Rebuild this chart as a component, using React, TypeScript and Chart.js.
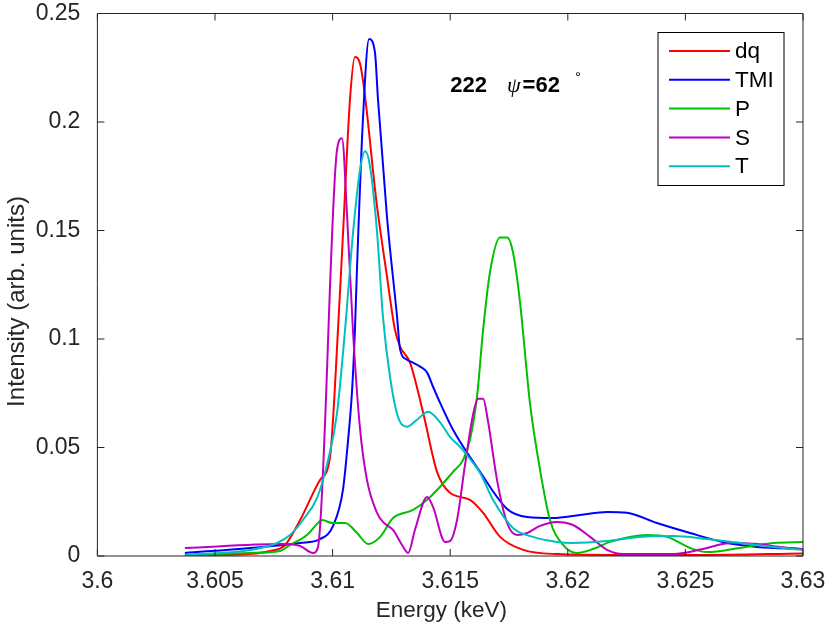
import { useEffect, useRef } from "react";
import { Chart, registerables } from "chart.js";

Chart.register(...registerables);

// tick positions and labels (MATLAB-style)
const xTickValues = [3.6, 3.605, 3.61, 3.615, 3.62, 3.625, 3.63];
const xTickLabels = ["3.6", "3.605", "3.61", "3.615", "3.62", "3.625", "3.63"];
const yTickValues = [0, 0.05, 0.1, 0.15, 0.2, 0.25];
const yTickLabels = ["0", "0.05", "0.1", "0.15", "0.2", "0.25"];

// dq
const dqEnergy = [
  3.60372, 3.60606, 3.60734, 3.60798, 3.60862, 3.60947, 3.60989, 3.61023, 3.61044,
  3.61074, 3.61095, 3.61117, 3.61189, 3.61231, 3.61265, 3.61287, 3.61329, 3.61385,
  3.61444, 3.61499, 3.61584, 3.6164, 3.61712, 3.6181, 3.61954, 3.62222, 3.62562, 3.63,
];
const dqIntensity = [
  0.0005, 0.0007, 0.0023, 0.0051, 0.0166, 0.0351, 0.0457, 0.1043, 0.148,
  0.2105, 0.2299, 0.2267, 0.161, 0.129, 0.1043, 0.0965, 0.0891, 0.066,
  0.0388, 0.0291, 0.0259, 0.0199, 0.0088, 0.0028, 0.0009, 0.0005, 0.0005, 0.0012,
];

// TMI
const tmiEnergy = [
  3.60372, 3.60649, 3.60862, 3.60947, 3.61002, 3.61044, 3.61066, 3.61083, 3.61095,
  3.61104, 3.61129, 3.61155, 3.6118, 3.61193, 3.61231, 3.61274, 3.61287, 3.61316,
  3.61342, 3.61372, 3.61402, 3.61427, 3.61457, 3.61512, 3.61627, 3.61742, 3.61827,
  3.61937, 3.62052, 3.62167, 3.62252, 3.62379, 3.6252, 3.62677, 3.62805, 3.63,
];
const tmiIntensity = [
  0.0014, 0.0037, 0.006, 0.0078, 0.0139, 0.0305, 0.0536, 0.0766, 0.1043,
  0.1334, 0.2013, 0.2382, 0.2322, 0.2105, 0.1565, 0.1103, 0.0951, 0.0905,
  0.0891, 0.0873, 0.0845, 0.078, 0.0706, 0.0582, 0.0388, 0.0217, 0.018,
  0.0175, 0.0189, 0.0203, 0.0199, 0.0152, 0.0106, 0.006, 0.0042, 0.0032,
];

// P
const pEnergy = [
  3.60372, 3.60649, 3.60776, 3.60819, 3.60891, 3.60934, 3.60955, 3.60998, 3.61053,
  3.61104, 3.61151, 3.61202, 3.61257, 3.61342, 3.61402, 3.61457, 3.61512, 3.61555,
  3.61584, 3.61614, 3.6164, 3.61669, 3.61712, 3.61742, 3.61767, 3.61797, 3.61839,
  3.61882, 3.61924, 3.6198, 3.62039, 3.62107, 3.6218, 3.62337, 3.62422, 3.6252,
  3.62592, 3.62732, 3.62873, 3.63,
];
const pIntensity = [
  0.0005, 0.0014, 0.0023, 0.0051, 0.0097, 0.0148, 0.0166, 0.0152, 0.0152,
  0.0106, 0.0055, 0.0088, 0.0175, 0.0212, 0.0259, 0.0319, 0.0388, 0.0443,
  0.0536, 0.0734, 0.1043, 0.1307, 0.1468, 0.1468, 0.1399, 0.1168, 0.0706,
  0.0397, 0.0166, 0.0051, 0.0014, 0.0032, 0.0065, 0.0097, 0.0088, 0.0037,
  0.0018, 0.0037, 0.006, 0.0065,
];

// S
const sEnergy = [
  3.60372, 3.60789, 3.60862, 3.60917, 3.60938, 3.61019, 3.6104, 3.61061, 3.61087,
  3.61117, 3.61146, 3.61189, 3.61214, 3.61257, 3.61295, 3.61321, 3.6135, 3.61402,
  3.61427, 3.61478, 3.61499, 3.61529, 3.61563, 3.61597, 3.61618, 3.6164, 3.61661,
  3.61699, 3.61742, 3.61784, 3.61827, 3.61882, 3.61954, 3.62022, 3.62095, 3.62167,
  3.62235, 3.62448, 3.62592, 3.6269, 3.62805, 3.62902, 3.63,
];
const sIntensity = [
  0.0037, 0.0055, 0.0046, 0.0014, 0.0042, 0.1874, 0.1925, 0.158, 0.103,
  0.0582, 0.0351, 0.0199, 0.0157, 0.012, 0.0051, 0.0014, 0.012, 0.0272,
  0.0226, 0.0065, 0.0069, 0.0166, 0.042, 0.0651, 0.0725, 0.0725, 0.0619,
  0.0351, 0.0152, 0.0097, 0.0106, 0.0139, 0.0157, 0.0143, 0.0088, 0.0028,
  0.0009, 0.0009, 0.0037, 0.006, 0.0055, 0.0042, 0.0032,
];

// T
const tEnergy = [
  3.60372, 3.60649, 3.60764, 3.60819, 3.60874, 3.60934, 3.60976, 3.61019, 3.61053,
  3.61087, 3.61117, 3.61138, 3.61159, 3.61189, 3.61214, 3.61244, 3.61278, 3.61316,
  3.61359, 3.61406, 3.61457, 3.61499, 3.61542, 3.61597, 3.61627, 3.61682, 3.61767,
  3.61852, 3.61954, 3.62022, 3.62167, 3.62307, 3.62448, 3.62592, 3.62732, 3.62873, 3.63,
];
const tIntensity = [
  0.0005, 0.0028, 0.006, 0.0097, 0.0166, 0.0268, 0.042, 0.066, 0.1043,
  0.1491, 0.1782, 0.1865, 0.1796, 0.1491, 0.1103, 0.0827, 0.0642, 0.0596,
  0.0628, 0.0665, 0.0616, 0.0549, 0.0503, 0.0429, 0.0383, 0.0259, 0.0129,
  0.0088, 0.0065, 0.006, 0.0069, 0.0088, 0.0092, 0.0078, 0.006, 0.0042, 0.0028,
];

const seriesLabels = ["dq", "TMI", "P", "S", "T"];
const seriesColors = ["#ff0000", "#0000ff", "#00bf00", "#bf00bf", "#00bfbf"];

const xTitle = "Energy (keV)";
const yTitle = "Intensity (arb. units)";

// annotation anchor (data coords, baseline of text)
const noteEnergy = 3.615;
const noteIntensity = 0.2138;

const FONT = "'Liberation Sans', Arial, Helvetica, sans-serif";
const AXIS = "#262626";
const TICK = 7;

const toPoints = (xs: number[], ys: number[]) => xs.map((x, i) => ({ x, y: ys[i] }));

const framePlugin = {
  id: "frame",
  afterDatasetsDraw(chart: any) {
    const { ctx, chartArea: a, scales } = chart;
    ctx.save();
    ctx.strokeStyle = AXIS;
    ctx.lineWidth = 1;
    ctx.beginPath();
    ctx.rect(a.left, a.top, a.right - a.left, a.bottom - a.top);
    xTickValues.forEach((v) => {
      const x = scales.x.getPixelForValue(v);
      ctx.moveTo(x, a.bottom);
      ctx.lineTo(x, a.bottom - TICK);
      ctx.moveTo(x, a.top);
      ctx.lineTo(x, a.top + TICK);
    });
    yTickValues.forEach((v) => {
      const y = scales.y.getPixelForValue(v);
      ctx.moveTo(a.left, y);
      ctx.lineTo(a.left + TICK, y);
      ctx.moveTo(a.right, y);
      ctx.lineTo(a.right - TICK, y);
    });
    ctx.stroke();
    ctx.restore();
  },
};

// axis titles, placed where the original figure has them
const titlesPlugin = {
  id: "titles",
  afterDraw(chart: any) {
    const { ctx, chartArea: a } = chart;
    ctx.save();
    ctx.fillStyle = AXIS;
    ctx.textAlign = "center";
    ctx.textBaseline = "alphabetic";
    ctx.font = `22.5px ${FONT}`;
    ctx.fillText(xTitle, a.left + 344, a.bottom + 61);
    ctx.translate(24, a.top + 288);
    ctx.rotate(-Math.PI / 2);
    ctx.font = `24px ${FONT}`;
    ctx.fillText(yTitle, 0, 0);
    ctx.restore();
  },
};

const notePlugin = {
  id: "note",
  afterDatasetsDraw(chart: any) {
    const { ctx, scales } = chart;
    let x = scales.x.getPixelForValue(noteEnergy);
    const y = scales.y.getPixelForValue(noteIntensity);
    ctx.save();
    ctx.fillStyle = "#000";
    ctx.textBaseline = "alphabetic";
    ctx.textAlign = "left";
    ctx.font = `bold 22px ${FONT}`;
    ctx.fillText("222", x, y);
    x += ctx.measureText("222").width + 20;
    ctx.font = `italic 22px 'Liberation Serif', 'DejaVu Serif', serif`;
    ctx.fillText("ψ", x, y);
    x += ctx.measureText("ψ").width + 2;
    ctx.font = `bold 22px ${FONT}`;
    ctx.fillText("=62", x, y);
    x += ctx.measureText("=62").width + 15;
    ctx.font = `15px ${FONT}`;
    ctx.fillText("°", x, y - 10);
    ctx.restore();
  },
};

const legendPlugin = {
  id: "boxLegend",
  afterDraw(chart: any) {
    const { ctx, chartArea: a } = chart;
    const right = a.right - 19;
    const top = a.top + 19;
    const w = 126;
    const h = 153;
    const left = right - w;
    ctx.save();
    ctx.fillStyle = "#fff";
    ctx.fillRect(left, top, w, h);
    ctx.strokeStyle = "#000";
    ctx.lineWidth = 1;
    ctx.strokeRect(left, top, w, h);
    ctx.font = `22.5px ${FONT}`;
    ctx.textBaseline = "middle";
    ctx.textAlign = "left";
    seriesLabels.forEach((label, i) => {
      const y = top + 18.5 + i * 28.8;
      ctx.strokeStyle = seriesColors[i];
      ctx.lineWidth = 2;
      ctx.beginPath();
      ctx.moveTo(left + 11, y);
      ctx.lineTo(left + 72, y);
      ctx.stroke();
      ctx.fillStyle = "#000";
      ctx.fillText(label, left + 77, y + 1);
    });
    ctx.restore();
  },
};

export default function App() {
  const canvasRef = useRef<HTMLCanvasElement | null>(null);

  useEffect(() => {
    if (!canvasRef.current) return;
    const ctx = canvasRef.current.getContext("2d");
    if (!ctx) return;

    const series = [
      toPoints(dqEnergy, dqIntensity),
      toPoints(tmiEnergy, tmiIntensity),
      toPoints(pEnergy, pIntensity),
      toPoints(sEnergy, sIntensity),
      toPoints(tEnergy, tIntensity),
    ];

    const tickFont = { family: FONT, size: 23 };

    const chart = new Chart(ctx, {
      type: "line",
      data: {
        datasets: series.map((data, i) => ({
          label: seriesLabels[i],
          data,
          borderColor: seriesColors[i],
          backgroundColor: seriesColors[i],
          borderWidth: 2,
          pointRadius: 0,
          fill: false,
          cubicInterpolationMode: "monotone" as const,
          order: series.length - i,
        })),
      },
      options: {
        animation: false,
        responsive: true,
        maintainAspectRatio: false,
        layout: { padding: { top: 13.5, right: 27, left: 0, bottom: 0 } },
        plugins: {
          legend: { display: false },
          tooltip: { enabled: false },
        },
        scales: {
          x: {
            type: "linear",
            min: 3.6,
            max: 3.63,
            afterBuildTicks: (s: any) => {
              s.ticks = xTickValues.map((value) => ({ value }));
            },
            afterFit: (s: any) => {
              s.height = 67;
              s.paddingLeft = 0;
              s.paddingRight = 0;
            },
            ticks: {
              autoSkip: false,
              maxRotation: 0,
              padding: 12,
              color: AXIS,
              font: tickFont,
              callback: (v: any) => {
                const i = xTickValues.findIndex((t) => Math.abs(t - v) < 1e-9);
                return i >= 0 ? xTickLabels[i] : "";
              },
            },
            grid: { display: false, drawTicks: false },
            border: { display: false },
            title: { display: false },
          },
          y: {
            type: "linear",
            min: 0,
            max: 0.25,
            afterBuildTicks: (s: any) => {
              s.ticks = yTickValues.map((value) => ({ value }));
            },
            afterFit: (s: any) => {
              s.width = 97.4;
              s.paddingTop = 0;
              s.paddingBottom = 0;
            },
            ticks: {
              autoSkip: false,
              padding: 17,
              color: AXIS,
              font: tickFont,
              callback: (v: any) => {
                const i = yTickValues.findIndex((t) => Math.abs(t - v) < 1e-9);
                return i >= 0 ? yTickLabels[i] : "";
              },
            },
            grid: { display: false, drawTicks: false },
            border: { display: false },
            title: { display: false },
          },
        },
      },
      plugins: [framePlugin, notePlugin, legendPlugin, titlesPlugin],
    });

    return () => chart.destroy();
  }, []);

  return (
    <div style={{ position: "fixed", left: 0, top: 0, width: 830, height: 623, background: "#fff" }}>
      <canvas ref={canvasRef} />
    </div>
  );
}
